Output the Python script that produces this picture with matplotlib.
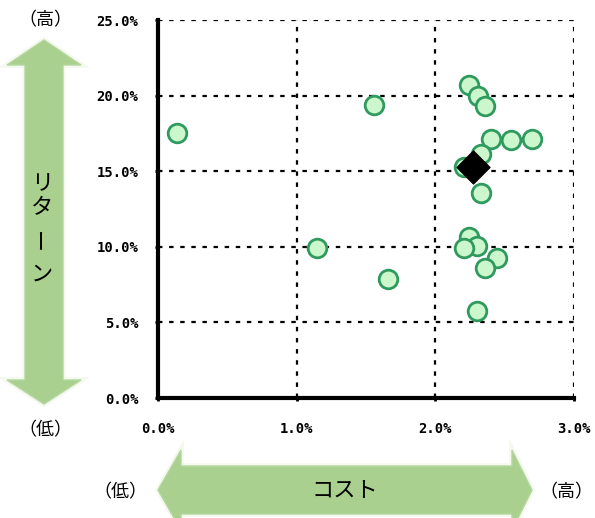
import matplotlib
matplotlib.use('Agg')
import matplotlib.pyplot as plt
from matplotlib.patches import Polygon
from matplotlib.ticker import FuncFormatter

plt.rcParams['font.family'] = ['Noto Sans CJK JP', 'DejaVu Sans']

# cost (%) and return (%) of each fund
cost = [0.135, 1.56, 1.144, 1.658, 2.245, 2.31, 2.358, 2.40, 2.545, 2.70,
        2.33, 2.21, 2.33, 2.245, 2.30, 2.21, 2.446, 2.358, 2.30]
ret = [17.53, 19.36, 9.91, 7.86, 20.73, 20.0, 19.29, 17.15, 17.04, 17.15,
       16.14, 15.3, 13.55, 10.68, 10.07, 9.91, 9.29, 8.63, 5.78]
# highlighted fund
hl_cost = [2.27]
hl_ret = [15.28]

xticks = [0.0, 1.0, 2.0, 3.0]
yticks = [0.0, 5.0, 10.0, 15.0, 20.0, 25.0]

fig = plt.figure(figsize=(5.95, 5.18), dpi=100)
ax = fig.add_axes([158/595, 1-398/518, 416/595, 378/518])

ax.scatter(cost, ret, s=180, facecolor='#ccf7cc', edgecolor='#2e9a5e',
           linewidth=2, zorder=3)
ax.scatter(hl_cost, hl_ret, marker='D', s=280, color='black', zorder=4)

ax.set_xlim(0, 3)
ax.set_ylim(0, 25)
ax.set_xticks(xticks)
ax.set_yticks(yticks)
fmt = FuncFormatter(lambda v, p: f'{v:.1f}%')
ax.xaxis.set_major_formatter(fmt)
ax.yaxis.set_major_formatter(fmt)
for lab in ax.get_xticklabels() + ax.get_yticklabels():
    lab.set_family('DejaVu Sans Mono')
    lab.set_fontweight('bold')
    lab.set_fontsize(10)
ax.tick_params(axis='x', length=2, width=2, pad=15)
ax.tick_params(axis='y', length=2, width=2, pad=12)
ax.grid(True, color='black', linestyle=(0, (2, 3)), linewidth=1.6)
ax.set_axisbelow(True)
for s in ['top', 'right']:
    ax.spines[s].set_visible(False)
for s in ['left', 'bottom']:
    ax.spines[s].set_linewidth(3)

# overlay in pixel coordinates for the arrows and labels
ov = fig.add_axes([0, 0, 1, 1], zorder=-1)
ov.set_xlim(0, 595)
ov.set_ylim(518, 0)
ov.axis('off')

green = '#a9d08e'
vert = [(44, 40), (81, 65), (63, 65), (63, 380), (81, 380), (44, 404),
        (7, 380), (25, 380), (25, 65), (7, 65)]
horz = [(158, 490), (181, 450), (181, 466), (512, 466), (512, 450), (532, 490),
        (512, 530), (512, 514), (181, 514), (181, 530)]
for pts in (vert, horz):
    ov.add_patch(Polygon(pts, closed=True, facecolor='#f4f9ef', edgecolor='#f4f9ef',
                         linewidth=4))
    ov.add_patch(Polygon(pts, closed=True, facecolor=green, edgecolor='#b5d69e',
                         linewidth=1))

for i, ch in enumerate('リタ'):
    ov.text(42, 184 + i * 24, ch, fontsize=16, ha='center', va='center')
ov.text(42, 238, 'ー', fontsize=16, ha='center', va='center', rotation=90)
ov.text(42, 274, 'ン', fontsize=16, ha='center', va='center')
ov.text(345, 490, 'コスト', fontsize=16, ha='center', va='center')

ov.text(45, 20, '（高）', fontsize=13, ha='center', va='center')
ov.text(45, 430, '（低）', fontsize=13, ha='center', va='center')
ov.text(120, 492, '（低）', fontsize=13, ha='center', va='center')
ov.text(566, 492, '（高）', fontsize=13, ha='center', va='center')

fig.savefig('out.png', dpi=100)
